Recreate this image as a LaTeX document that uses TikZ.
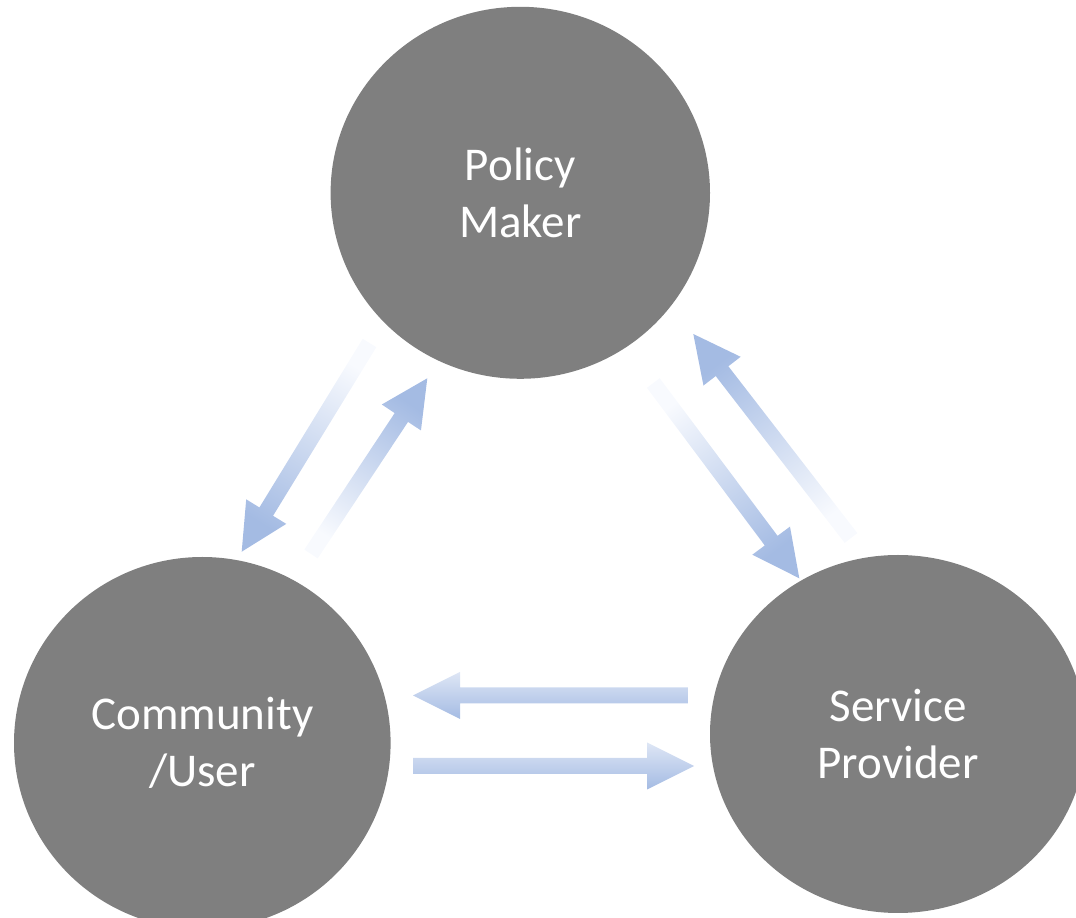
\documentclass[tikz,border=0pt]{standalone}
\usepackage{fontspec}
\setmainfont{Carlito}
\usetikzlibrary{calc,shapes.geometric}
\definecolor{actorgrey}{RGB}{127,127,127}
\definecolor{flowdark}{RGB}{164,187,227}
\definecolor{flowlight}{RGB}{222,230,245}
\definecolor{flowfaint}{RGB}{248,250,254}
\newcommand\flowarrow[3][]{%
  \coordinate (hb) at ($(#3)!47pt!(#2)$);
  \shade[#1] ($(#2)!8pt!90:(#3)$) -- ($(hb)!8pt!90:(#3)$) -- ($(hb)!23.5pt!90:(#3)$) -- (#3)
    -- ($(hb)!23.5pt!-90:(#3)$) -- ($(hb)!8pt!-90:(#3)$) -- ($(#2)!8pt!-90:(#3)$) -- cycle;}

\begin{document}
\begin{tikzpicture}[x=1pt,y=1pt,
  actor/.style={ellipse,fill=actorgrey,inner sep=0pt,text=white,align=center,
    font=\fontsize{47}{57.5}\selectfont},
  fade/.style={top color=flowfaint,bottom color=flowdark,shading angle=#1},
  level/.style={top color=flowlight,bottom color=flowdark}]
	\useasboundingbox (0,0) rectangle (1076,918);
	\clip (0,0) rectangle (1076,918);
	\node[actor,minimum width=379.4pt,minimum height=372pt] (policy) at (520.3,725.2) {Policy\\Maker};
	\node[actor,minimum width=376.6pt,minimum height=372pt] (community) at (202.3,175) {Community\\/User};
	\node[actor,minimum width=376pt,minimum height=358pt] (service) at (898,184) {Service\\Provider};
	\coordinate (pc-tail) at (369.5,575);
	\coordinate (pc-tip) at (241.7,366.3);
	\coordinate (cp-tail) at (311,364);
	\coordinate (cp-tip) at (427.3,539.7);
	\coordinate (ps-tail) at (653.3,535);
	\coordinate (ps-tip) at (799.3,339.7);
	\coordinate (sp-tail) at (851,380);
	\coordinate (sp-tip) at (693.3,584);
	\coordinate (sc-tail) at (688,222.5);
	\coordinate (sc-tip) at (413,222.5);
	\coordinate (cs-tail) at (413,152);
	\coordinate (cs-tip) at (694,152);
	\flowarrow[fade=-31.5]{pc-tail}{pc-tip}
	\flowarrow[fade=146.5]{cp-tail}{cp-tip}
	\flowarrow[fade=36.8]{ps-tail}{ps-tip}
	\flowarrow[fade=217.7]{sp-tail}{sp-tip}
	\flowarrow[level]{sc-tail}{sc-tip}
	\flowarrow[level]{cs-tail}{cs-tip}
\end{tikzpicture}
\end{document}
